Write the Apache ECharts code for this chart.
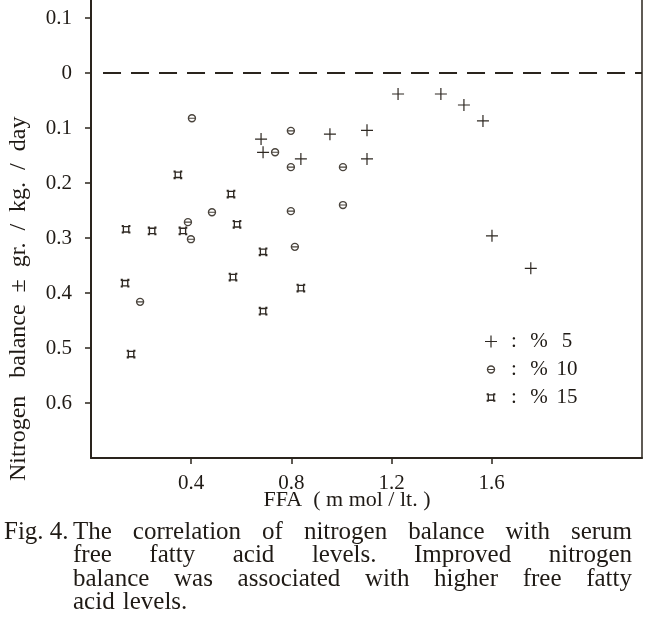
<!DOCTYPE html>
<html>
<head>
<meta charset="utf-8">
<script src="https://cdn.jsdelivr.net/npm/echarts@6/dist/echarts.min.js"></script>
<style>
  html, body { margin: 0; padding: 0; background: #fff; }
  #chart { width: 650px; height: 627px; }
</style>
</head>
<body>
<div id="chart"></div>
<script>
// Fig. 4 - FFA (m mol / lt.) against nitrogen balance (gr. / kg. / day)
// three groups
const ffa5  = [1.226, 1.397, 1.489, 1.565, 1.102, 1.102, 1.601, 1.756, 0.679, 0.687, 0.838, 0.954];
const nb5   = [-0.038, -0.038, -0.058, -0.087, -0.104, -0.156, -0.296, -0.355, -0.120, -0.144, -0.156, -0.111];

const ffa10 = [0.403, 0.798, 0.735, 0.798, 1.006, 0.483, 0.798, 1.006, 0.387, 0.399, 0.814, 0.196];
const nb10  = [-0.082, -0.105, -0.144, -0.171, -0.171, -0.253, -0.251, -0.240, -0.271, -0.302, -0.316, -0.416];

const ffa15 = [0.347, 0.559, 0.140, 0.244, 0.367, 0.583, 0.687, 0.136, 0.567, 0.838, 0.687, 0.160];
const nb15  = [-0.185, -0.220, -0.284, -0.287, -0.287, -0.275, -0.325, -0.382, -0.371, -0.391, -0.433, -0.511];

const groupNames = ['5', '10', '15'];
const xTicks = [0.4, 0.8, 1.2, 1.6];
const yTicks = [0.1, 0, -0.1, -0.2, -0.3, -0.4, -0.5, -0.6];

const xTitle = 'FFA  ( m mol / lt. )';
const yTitle = 'Nitrogen   balance  \u00b1  gr.  /  kg.  /  day';
const figLabel = 'Fig. 4.';
const captionLines = [
  'The correlation of nitrogen balance with serum',
  'free fatty acid levels. Improved nitrogen',
  'balance was associated with higher free fatty',
  'acid levels.'
];

const ink = '#2a241d';
const textInk = '#1f1a15';
const serif = '"Liberation Serif", "DejaVu Serif", serif';

// symbols drawn in a common 16x16 box so legend icons keep relative size
const plusSym = 'path://M0,0M16,16M7.2,0H8.8V7.2H16V8.8H8.8V16H7.2V8.8H0V7.2H7.2Z';
const ringSym = 'path://M0,0M16,16M8,2.4A5.6,5.6 0 1,1 8,13.6A5.6,5.6 0 1,1 8,2.4Z' +
  'M8,4.3A3.7,3.7 0 1,0 8,11.7A3.7,3.7 0 1,0 8,4.3ZM4,7.3H12V8.7H4Z';
const boxSym = 'path://M0,0M16,16M3.5,3.5H12.5V12.5H3.5ZM5.3,5.3V10.7H10.7V5.3Z' +
  'M2.2,2.2H5V5H2.2ZM11,2.2H13.8V5H11ZM2.2,11H5V13.8H2.2ZM11,11H13.8V13.8H11Z';

const zip = (xs, ys) => xs.map((x, i) => [x, ys[i]]);

const chart = echarts.init(document.getElementById('chart'));

// caption, justified word by word like the printed figure
const ctx = document.createElement('canvas').getContext('2d');
const capFont = '25px ' + serif;
ctx.font = capFont;
const capLeft = 73, capRight = 632;
const capY = [532, 555.5, 579, 602.5];
const graphics = [];
graphics.push({
  type: 'text', x: 4, y: capY[0],
  style: { text: figLabel, font: capFont, fill: textInk, align: 'left', verticalAlign: 'middle' }
});
captionLines.forEach((line, i) => {
  const words = line.split(' ');
  const widths = words.map(w => ctx.measureText(w).width);
  const total = widths.reduce((a, b) => a + b, 0);
  const last = i === captionLines.length - 1;
  const gap = last ? ctx.measureText(' ').width * 1.3 : (capRight - capLeft - total) / (words.length - 1);
  let x = capLeft;
  words.forEach((w, j) => {
    graphics.push({
      type: 'text', x: x, y: capY[i],
      style: { text: w, font: capFont, fill: textInk, align: 'left', verticalAlign: 'middle' }
    });
    x += widths[j] + gap;
  });
});
graphics.push({
  type: 'text', x: 347, y: 500,
  style: { text: xTitle, font: '22px ' + serif, fill: textInk, align: 'center', verticalAlign: 'middle' }
});
graphics.push({
  type: 'text', x: 19, y: 481, rotation: Math.PI / 2,
  style: { text: yTitle, font: '24px ' + serif, fill: textInk, align: 'left', verticalAlign: 'middle' }
});

const option = {
  backgroundColor: '#fff',
  animation: false,
  grid: { left: 91, right: 8, top: 0, bottom: 169 },
  xAxis: {
    type: 'value', min: 0, max: 2.2,
    axisLine: { show: true, onZero: false, lineStyle: { color: ink, width: 2 } },
    axisTick: { show: true, length: 6, lineStyle: { color: ink, width: 1.5 }, customValues: xTicks },
    axisLabel: {
      customValues: xTicks, margin: 15, color: textInk,
      fontFamily: serif, fontSize: 21,
      formatter: v => v.toFixed(1)
    },
    splitLine: { show: false }
  },
  yAxis: [{
    type: 'value', min: -0.7, max: 0.133,
    axisLine: { show: true, onZero: false, lineStyle: { color: ink, width: 2 } },
    axisTick: { show: true, length: 6, lineStyle: { color: ink, width: 1.5 }, customValues: yTicks },
    axisLabel: {
      customValues: yTicks, margin: 19, color: textInk,
      fontFamily: serif, fontSize: 21,
      formatter: v => (Math.abs(v) < 1e-9 ? '0' : Math.abs(v).toFixed(1))
    },
    splitLine: { show: false }
  }, {
    type: 'value', min: -0.7, max: 0.133, position: 'right',
    axisLine: { show: true, onZero: false, lineStyle: { color: ink, width: 1.5 } },
    axisTick: { show: false }, axisLabel: { show: false }, splitLine: { show: false }
  }],
  legend: {
    orient: 'vertical', left: 480, top: 326,
    itemWidth: 12, itemHeight: 12, itemGap: 7,
    data: groupNames,
    formatter: name => '{c|:}{p|%}{n|' + name + '}',
    textStyle: {
      color: textInk, fontFamily: serif, fontSize: 21,
      rich: {
        c: { width: 24, align: 'center', fontFamily: serif, fontSize: 21 },
        p: { width: 26, align: 'center', fontFamily: serif, fontSize: 21 },
        n: { width: 30, align: 'center', fontFamily: serif, fontSize: 21 }
      }
    }
  },
  series: [{
    name: groupNames[0], type: 'scatter', symbol: plusSym, symbolSize: 12,
    itemStyle: { color: '#2e2822', opacity: 1 },
    data: zip(ffa5, nb5),
    markLine: {
      silent: true, symbol: 'none', label: { show: false },
      lineStyle: { color: ink, width: 2, type: [18, 10] },
      data: [[{ coord: [0.048, 0] }, { coord: [2.2, 0] }]]
    }
  }, {
    name: groupNames[1], type: 'scatter', symbol: ringSym, symbolSize: 12,
    itemStyle: { color: '#4a443d', opacity: 1 },
    data: zip(ffa10, nb10)
  }, {
    name: groupNames[2], type: 'scatter', symbol: boxSym, symbolSize: 12,
    itemStyle: { color: '#2e2822', opacity: 1 },
    data: zip(ffa15, nb15)
  }],
  graphic: { elements: graphics }
};

chart.setOption(option);
</script>
</body>
</html>
